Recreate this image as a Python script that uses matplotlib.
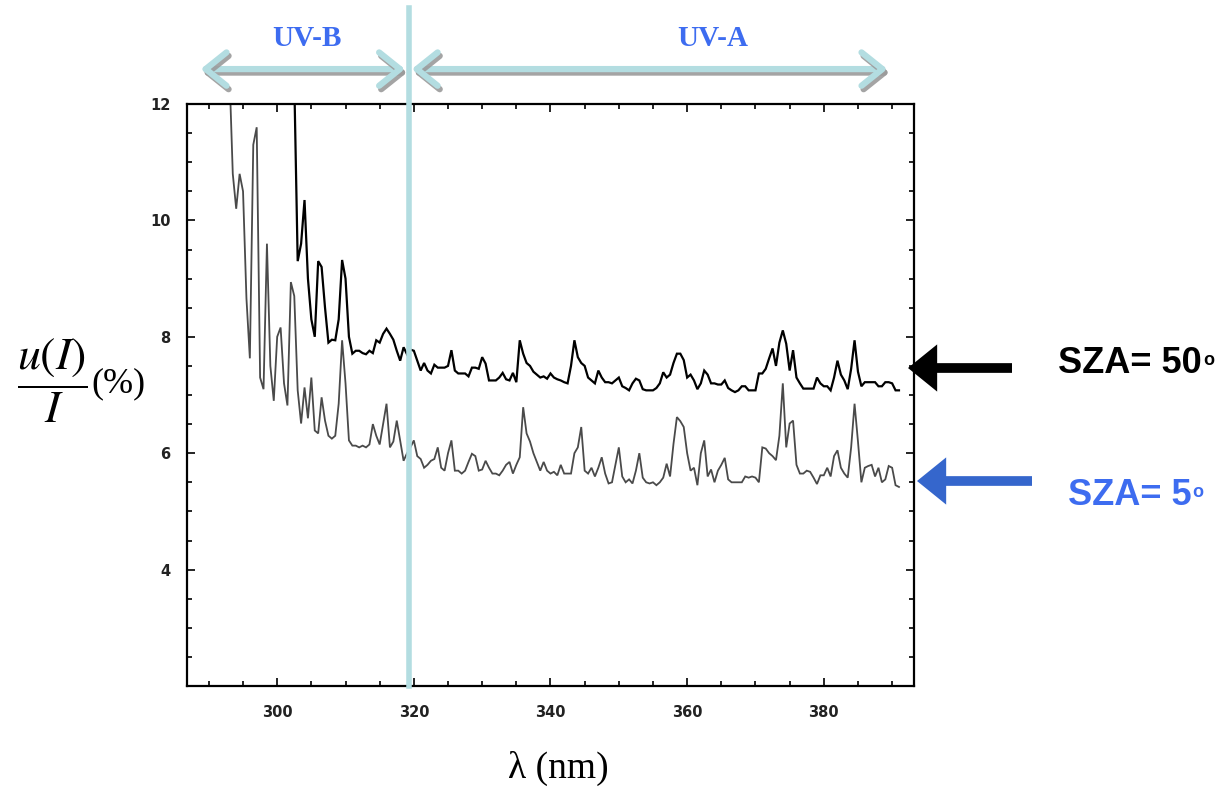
import numpy as np
import matplotlib
matplotlib.use("Agg")
import matplotlib.pyplot as plt
from matplotlib.patches import FancyArrowPatch
from matplotlib.ticker import MultipleLocator
import matplotlib.patheffects as pe

# Relative uncertainty u(I)/I (%) sampled every 0.5 nm
sza5_start = 293.0
sza5_values = [
    12.6, 10.8, 10.2, 10.8, 10.5, 8.66, 7.63, 11.3, 11.6, 7.3,
    7.1, 9.6, 7.5, 6.9, 8.0, 8.16, 7.2, 6.82, 8.94, 8.7,
    7.08, 6.51, 7.13, 6.6, 7.3, 6.39, 6.34, 6.96, 6.56, 6.3,
    6.25, 6.3, 6.85, 7.94, 7.2, 6.22, 6.13, 6.13, 6.1, 6.13,
    6.1, 6.15, 6.5, 6.3, 6.15, 6.5, 6.85, 6.1, 6.2, 6.56,
    6.22, 5.87, 6.0, 6.1, 6.22, 5.95, 5.9, 5.75, 5.8, 5.87,
    5.9, 6.1, 5.75, 5.7, 6.0, 6.22, 5.7, 5.7, 5.65, 5.7,
    5.85, 5.99, 5.95, 5.7, 5.72, 5.87, 5.75, 5.65, 5.65, 5.62,
    5.7, 5.8, 5.85, 5.65, 5.8, 5.93, 6.79, 6.34, 6.2, 6.0,
    5.85, 5.7, 5.85, 5.7, 5.65, 5.68, 5.62, 5.8, 5.65, 5.65,
    5.65, 6.0, 6.1, 6.45, 5.7, 5.65, 5.75, 5.6, 5.75, 5.93,
    5.65, 5.48, 5.5, 5.8, 6.1, 5.6, 5.5, 5.55, 5.48, 5.7,
    6.0, 5.58, 5.5, 5.48, 5.5, 5.45, 5.5, 5.58, 5.82, 5.6,
    6.16, 6.62, 6.55, 6.45, 6.0, 5.7, 5.75, 5.45, 6.0, 6.22,
    5.6, 5.72, 5.5, 5.7, 5.8, 5.92, 5.55, 5.5, 5.5, 5.5,
    5.5, 5.6, 5.58, 5.6, 5.58, 5.5, 6.1, 6.08, 6.0, 5.95,
    5.88, 6.3, 7.2, 6.1, 6.51, 6.56, 5.8, 5.65, 5.65, 5.7,
    5.68, 5.58, 5.47, 5.62, 5.62, 5.75, 5.6, 5.95, 6.05, 5.75,
    5.65, 5.58, 6.1, 6.85, 6.2, 5.5, 5.75, 5.78, 5.8, 5.6,
    5.75, 5.5, 5.55, 5.78, 5.75, 5.45, 5.42,
]

sza50_start = 302.0
sza50_values = [
    13.0, 12.4, 9.3, 9.6, 10.35, 9.0, 8.3, 8.0, 9.3, 9.2,
    8.5, 7.9, 7.95, 7.94, 8.3, 9.32, 9.0, 8.0, 7.71, 7.76,
    7.76, 7.72, 7.7, 7.76, 7.72, 7.94, 7.9, 8.05, 8.14, 8.05,
    7.95, 7.76, 7.59, 7.82, 7.7, 7.78, 7.76, 7.59, 7.42, 7.55,
    7.42, 7.37, 7.52, 7.47, 7.47, 7.47, 7.5, 7.77, 7.42, 7.37,
    7.37, 7.37, 7.32, 7.47, 7.47, 7.45, 7.65, 7.54, 7.25, 7.25,
    7.25, 7.3, 7.38, 7.27, 7.25, 7.38, 7.22, 7.94, 7.71, 7.55,
    7.5, 7.4, 7.35, 7.3, 7.32, 7.28, 7.37, 7.3, 7.27, 7.25,
    7.22, 7.2, 7.5, 7.94, 7.65, 7.55, 7.5, 7.3, 7.25, 7.2,
    7.42, 7.3, 7.22, 7.22, 7.2, 7.25, 7.3, 7.15, 7.12, 7.08,
    7.2, 7.28, 7.25, 7.1, 7.08, 7.08, 7.08, 7.12, 7.2, 7.39,
    7.3, 7.35, 7.55, 7.71, 7.71, 7.6, 7.3, 7.35, 7.25, 7.1,
    7.2, 7.42, 7.35, 7.2, 7.2, 7.18, 7.18, 7.25, 7.12, 7.08,
    7.05, 7.08, 7.15, 7.15, 7.08, 7.08, 7.08, 7.37, 7.37, 7.45,
    7.63, 7.8, 7.5, 7.9, 8.11, 7.88, 7.42, 7.77, 7.3, 7.2,
    7.11, 7.11, 7.11, 7.11, 7.3, 7.2, 7.15, 7.15, 7.08, 7.3,
    7.59, 7.35, 7.25, 7.1, 7.45, 7.94, 7.4, 7.15, 7.22, 7.22,
    7.22, 7.22, 7.15, 7.15, 7.22, 7.22, 7.2, 7.08, 7.08,
]

step_nm = 0.5
sza5_wl = sza5_start + step_nm * np.arange(len(sza5_values))
sza50_wl = sza50_start + step_nm * np.arange(len(sza50_values))

x_ticks = [300, 320, 340, 360, 380]
y_ticks = [4, 6, 8, 10, 12]
band_edge = 319.3          # UV-B / UV-A boundary line
uvb_span = (288.8, 318.7)
uva_span = (319.7, 389.3)

W, H = 1223, 787
fig = plt.figure(figsize=(W / 100, H / 100), dpi=100)
fig.patch.set_facecolor("white")


def fx(px):
    return px / W


def fy(py):
    return 1 - py / H


ax = fig.add_axes([fx(187), fy(686), fx(914) - fx(187), fy(104) - fy(686)])

ax.plot(sza5_wl, sza5_values, color="#4a4a4a", lw=1.3, solid_joinstyle="miter")
ax.plot(sza50_wl, sza50_values, color="black", lw=1.6, solid_joinstyle="miter")

ax.set_xlim(286.8, 393.2)
ax.set_ylim(2, 12)
ax.set_xticks(x_ticks)
ax.set_yticks(y_ticks)
ax.xaxis.set_minor_locator(MultipleLocator(5))
ax.yaxis.set_minor_locator(MultipleLocator(0.5))
ax.tick_params(which="both", direction="in", top=True, right=True,
               colors="black", width=1.2)
ax.tick_params(which="major", length=6, labelsize=10.5, labelcolor="#222222")
ax.tick_params(axis="x", which="major", pad=14)
ax.tick_params(axis="y", which="major", pad=12)
ax.tick_params(which="minor", length=3.5)
for lab in ax.get_xticklabels() + ax.get_yticklabels():
    lab.set_fontweight("bold")
for sp in ax.spines.values():
    sp.set_linewidth(1.6)

# boundary between UV-B and UV-A, extending above the frame
ax.axvline(band_edge, ymin=0, ymax=(686 - 8) / (686 - 104), color="#b3dde1",
           lw=4, clip_on=False, zorder=5)

# double-headed band arrows with a soft drop shadow
light = "#b3dde1"
for x0, x1 in (uvb_span, uva_span):
    arr = FancyArrowPatch((x0, 1.06), (x1, 1.06),
                          transform=ax.get_xaxis_transform(),
                          arrowstyle="<->,head_length=1.5,head_width=1.2",
                          mutation_scale=10, color=light, lw=4.5,
                          shrinkA=0, shrinkB=0, clip_on=False, zorder=6,
                          path_effects=[pe.SimpleLineShadow(offset=(1.5, -2.5),
                                                            shadow_color="#9a9a9a",
                                                            alpha=0.9),
                                        pe.Normal()])
    ax.add_patch(arr)

band_blue = "#3d6cf0"
for label, cx in (("UV-B", 307), ("UV-A", 713)):
    t = fig.text(fx(cx), fy(39), label, color=band_blue, fontsize=21,
                 fontweight="bold", family="Liberation Serif",
                 ha="center", va="center")
    t.set_fontstretch("condensed")

# axis titles
fig.text(fx(52), fy(381), r"$\dfrac{u(I)}{I}$", fontsize=33,
         math_fontfamily="stix", ha="center", va="center")
fig.text(fx(91), fy(384), "(%)", fontsize=26, family="Liberation Serif",
         ha="left", va="center")
fig.text(fx(558), fy(768), "λ (nm)", fontsize=27, family="Liberation Serif",
         ha="center", va="center")

# solar zenith angle markers
for tail_x, tip_x, y_px, col in ((1012, 908, 368, "black"),
                                  (1032, 917, 481, "#3566cc")):
    fig.patches.append(FancyArrowPatch(
        (fx(tail_x), fy(y_px)), (fx(tip_x), fy(y_px)),
        transform=fig.transFigure,
        arrowstyle="simple,head_length=21,head_width=34,tail_width=7",
        mutation_scale=1, color=col, shrinkA=0, shrinkB=0, lw=0))

renderer = fig.canvas.get_renderer()
for label, x_px, base_px, col in (("SZA= 50", 1058, 373, "black"),
                                  ("SZA= 5", 1068, 505, band_blue)):
    t = fig.text(fx(x_px), fy(base_px), label, fontsize=26, fontweight="bold",
                 family="Liberation Sans", color=col, ha="left", va="baseline")
    bb = t.get_window_extent(renderer)
    fig.text(bb.x1 / W + fx(1), fy(base_px - 8), "o", fontsize=13,
             fontweight="bold", family="Liberation Sans", color=col,
             ha="left", va="baseline")

fig.savefig("out.png", dpi=100, facecolor="white")
